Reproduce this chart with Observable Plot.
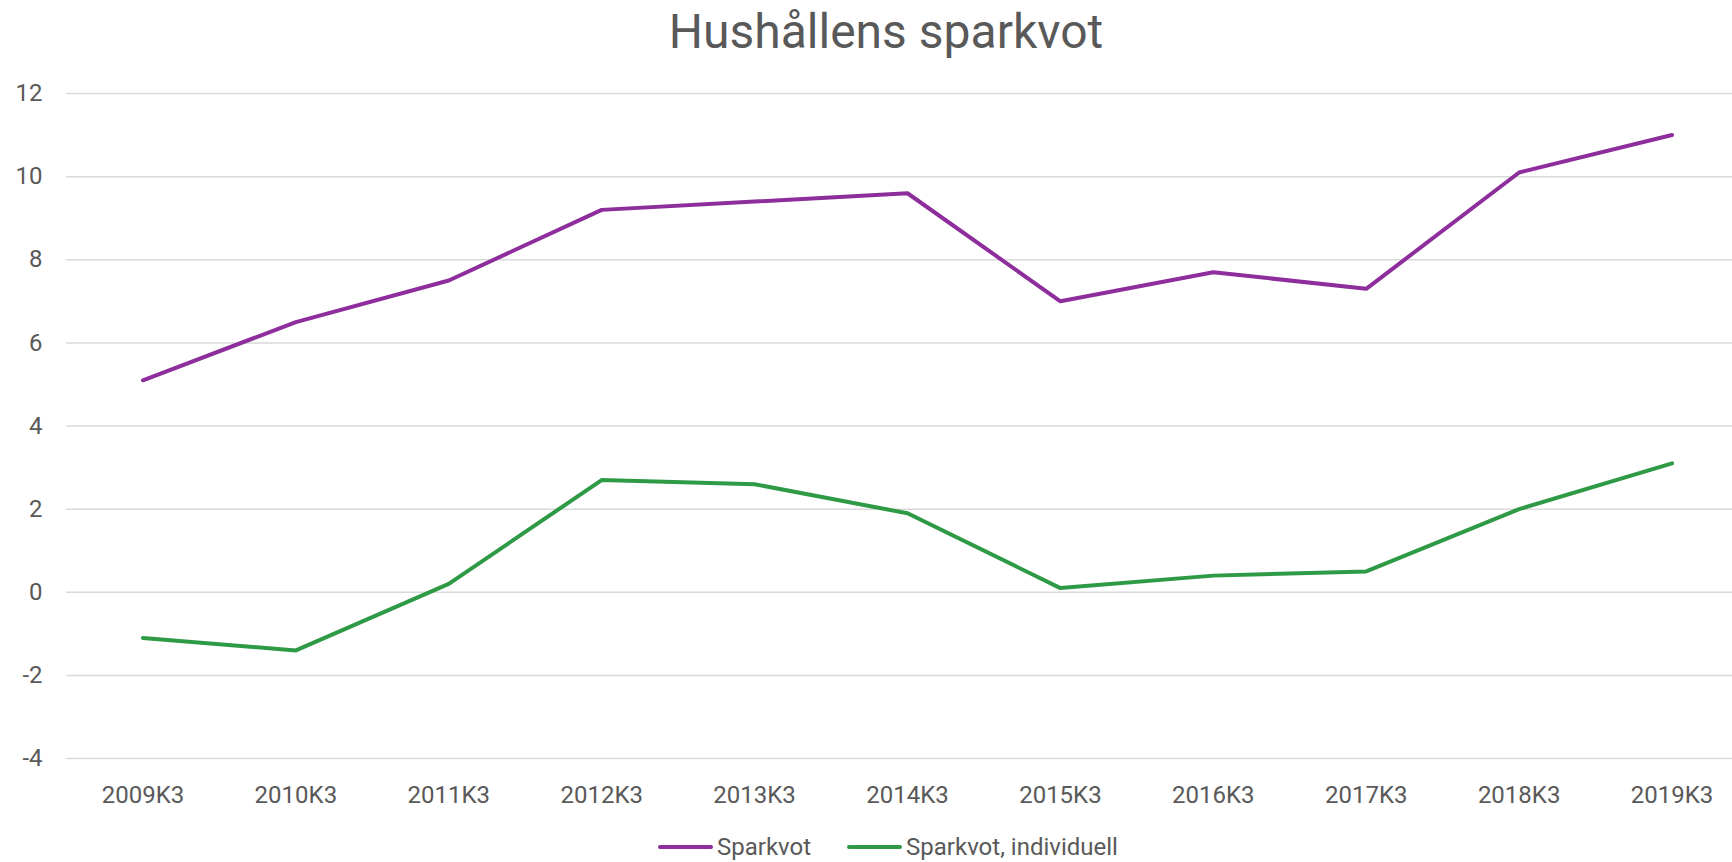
<!DOCTYPE html>
<html>
<head>
<meta charset="utf-8">
<script src="https://cdn.jsdelivr.net/npm/d3@7"></script>
<script src="https://cdn.jsdelivr.net/npm/@observablehq/plot@0.6"></script>
<style>
html, body { margin: 0; padding: 0; background: #fff; overflow: hidden; width: 1732px; height: 862px; }
body { position: relative; font-family: Roboto, sans-serif; color: #595959; }
#title { position: absolute; left: 886px; top: 8px; transform: translateX(-50%); font-size: 48px; line-height: 48px; white-space: nowrap; }
#chart { position: absolute; left: 0; top: 60px; width: 1748px; }
#legend { position: absolute; left: 658px; top: 835px; display: flex; align-items: center; font-size: 24px; line-height: 24px; white-space: nowrap; }
.item { display: flex; align-items: center; margin-right: 36px; }
.sw { width: 55px; height: 4px; border-radius: 2px; margin-right: 4px; }
</style>
</head>
<body>
<div id="title">Hushållens sparkvot</div>
<div id="chart"></div>
<div id="legend"></div>
<script>
const categories = ["2009K3", "2010K3", "2011K3", "2012K3", "2013K3", "2014K3", "2015K3", "2016K3", "2017K3", "2018K3", "2019K3"];
const sparkvot = [5.1, 6.5, 7.5, 9.2, 9.4, 9.6, 7.0, 7.7, 7.3, 10.1, 11.0];
const sparkvotIndividuell = [-1.1, -1.4, 0.2, 2.7, 2.6, 1.9, 0.1, 0.4, 0.5, 2.0, 3.1];
const seriesNames = ["Sparkvot", "Sparkvot, individuell"];
const yTicks = [-4, -2, 0, 2, 4, 6, 8, 10, 12];

const seriesValues = [sparkvot, sparkvotIndividuell];
const rows = seriesNames.flatMap((s, k) =>
  categories.map((c, i) => ({ period: c, series: s, value: seriesValues[k][i] }))
);
const colors = ["#8E2D9C", "#2F9A46"];

const chart = Plot.plot({
  width: 1748,
  height: 760,
  marginLeft: 66,
  marginRight: 0,
  marginTop: 33,
  marginBottom: 62,
  style: { fontFamily: "Roboto, sans-serif", fontSize: "24px", color: "#595959", background: "transparent", maxWidth: "none", overflow: "visible" },
  x: { type: "point", domain: categories, padding: 0.5, round: false, label: null, tickSize: 0, tickPadding: 27 },
  y: { domain: [-4, 12], ticks: yTicks, label: null, tickSize: 0, tickPadding: 24, tickFormat: d => String(d) },
  color: { domain: seriesNames, range: colors },
  marks: [
    Plot.ruleY(yTicks, { stroke: "#d9d9d9", strokeWidth: 1.5 }),
    Plot.line(rows, { x: "period", y: "value", z: "series", stroke: "series", strokeWidth: 4 })
  ]
});
document.getElementById("chart").appendChild(chart);

const legend = document.getElementById("legend");
seriesNames.forEach((s, k) => {
  const item = document.createElement("div");
  item.className = "item";
  const sw = document.createElement("div");
  sw.className = "sw";
  sw.style.background = colors[k];
  const label = document.createElement("span");
  label.textContent = s;
  item.appendChild(sw);
  item.appendChild(label);
  legend.appendChild(item);
});
</script>
</body>
</html>
